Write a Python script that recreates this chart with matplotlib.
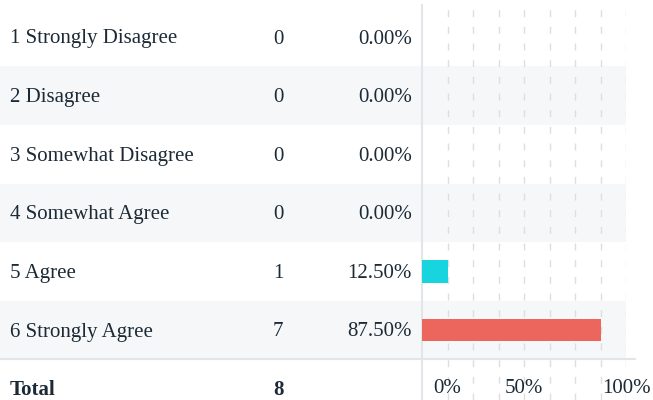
import numpy as np
import matplotlib
matplotlib.use("Agg")
import matplotlib.pyplot as plt

# data
labels = ["1 Strongly Disagree", "2 Disagree", "3 Somewhat Disagree",
          "4 Somewhat Agree", "5 Agree", "6 Strongly Agree"]
counts = [0, 0, 0, 0, 1, 7]
percents = [0.0, 0.0, 0.0, 0.0, 12.5, 87.5]
bar_colors = ["#17d4de", "#17d4de", "#17d4de", "#17d4de", "#17d4de", "#ec665e"]
total_label = "Total"
total_count = 8
tick_pos = [12.5, 50, 100]
tick_labels = ["0%", "50%", "100%"]
grid_pos = np.arange(12.5, 100.1, 12.5)

W, H = 653, 400
txt = "#1c2a36"
plt.rcParams["font.family"] = ["Liberation Serif", "DejaVu Serif"]
fs = 15

fig = plt.figure(figsize=(W / 100, H / 100), dpi=100)

# layout axes in pixel coordinates
ax = fig.add_axes([0, 0, 1, 1])
ax.set_xlim(0, W)
ax.set_ylim(H, 0)
ax.axis("off")

row_h = 58.6
row0 = 37.0
x_left, x_right = 422, 626  # 0% and 100%
dy = 2  # text nudge

for i, (lab, c, p) in enumerate(zip(labels, counts, percents)):
    yc = row0 + i * row_h
    if i % 2 == 1:
        ax.axhspan(yc - row_h / 2, yc + row_h / 2, xmin=0, xmax=x_right / W,
                   color="#f5f7f9", lw=0, zorder=0)
    ax.text(10, yc + dy, lab, fontsize=fs, color=txt, va="center", ha="left")
    ax.text(278, yc + dy, str(c), fontsize=fs, color=txt, va="center", ha="center")
    ax.text(412, yc + dy, f"{p:.2f}%", fontsize=fs, color=txt, va="center", ha="right")

y_tot = row0 + len(labels) * row_h - 1
ax.text(10, y_tot + dy, total_label, fontsize=fs, color=txt, va="center",
        ha="left", fontweight="bold")
ax.text(278, y_tot + dy, str(total_count), fontsize=fs, color=txt, va="center",
        ha="center", fontweight="bold")
ax.plot([0, 635], [358.5, 358.5], color="#e2e5e9", lw=1.5, zorder=3)

# bar axes
top_px = 5
bx = fig.add_axes([x_left / W, 0, (x_right - x_left) / W, (H - top_px) / H])
bx.patch.set_alpha(0)
y_top = -0.5 - (row0 - row_h / 2 - top_px) / row_h
bx.set_ylim(y_top + (H - top_px) / row_h, y_top)
bx.set_xlim(0, 100)
y = np.arange(len(labels))
bx.barh(y, percents, height=0.38, color=bar_colors, zorder=3)
for g in grid_pos:
    bx.axvline(g, color="#dedede", lw=1, ls=(0, (5, 7)), zorder=1)
for s in ["top", "right", "bottom"]:
    bx.spines[s].set_visible(False)
bx.spines["left"].set_color("#e2e5e9")
bx.spines["left"].set_linewidth(1.5)
bx.set_xticks([])
bx.set_yticks([])
for tp, tl in zip(tick_pos, tick_labels):
    bx.text(tp, len(labels) + dy / row_h - 0.03, tl, fontsize=fs, color=txt,
            ha="center", va="center", clip_on=False)

fig.savefig("out.png", dpi=100)
